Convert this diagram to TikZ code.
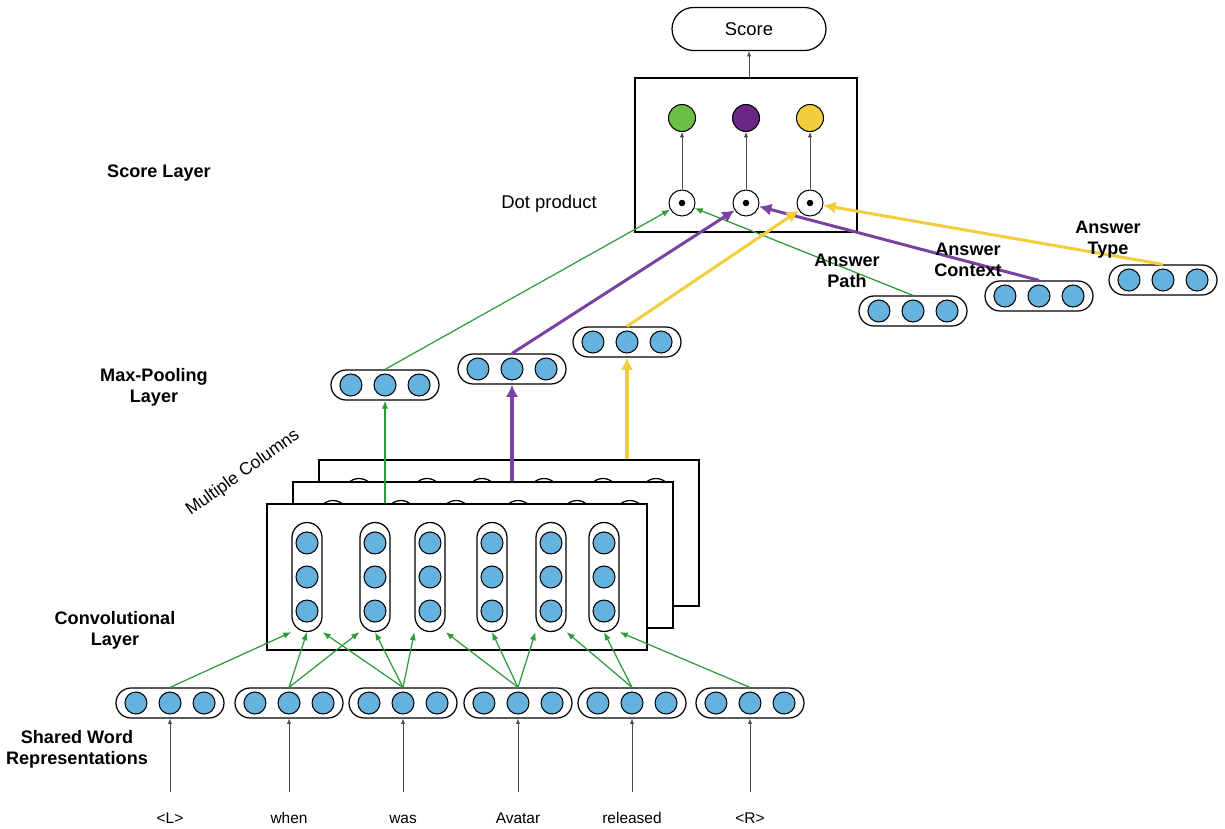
\documentclass[tikz,border=0pt]{standalone}
\usepackage{fontspec}
\setmainfont{Liberation Sans}
\usepackage{tikz}
\usetikzlibrary{arrows.meta}
\usetikzlibrary{positioning}
\usetikzlibrary{calc}
\definecolor{unitblue}{HTML}{66B2DE}
\definecolor{pathgreen}{HTML}{2E9B3A}
\definecolor{dotgreen}{HTML}{6CBF44}
\definecolor{ctxpurple}{HTML}{7A42A0}
\definecolor{dotpurple}{HTML}{6A2784}
\definecolor{typeyellow}{HTML}{F2CD3C}
\tikzstyle{unit}=[draw, circle, fill=unitblue, minimum size=0.44cm,
  inner sep=0pt, line width=0.6pt]
\tikzstyle{hvec}=[draw, rounded corners=0.3cm, minimum width=2.16cm,
  minimum height=0.6cm, inner sep=0pt, line width=0.7pt]
\tikzstyle{vvec}=[draw, fill=white, rounded corners=0.3cm, minimum width=0.6cm,
  minimum height=2.18cm, inner sep=0pt, line width=0.7pt]
\tikzstyle{layer}=[draw, fill=white, inner sep=0pt, line width=0.8pt]
\tikzstyle{dotop}=[draw, circle, fill=white, minimum size=0.52cm,
  inner sep=0pt, line width=0.6pt]
\tikzstyle{outdot}=[dotop, minimum size=0.54cm]
\tikzstyle{title}=[font=\fontsize{10.3}{12}\selectfont\bfseries, align=center]
\tikzstyle{word}=[font=\fontsize{8.8}{10}\selectfont, text height=1.6ex,
  text depth=0.3ex]
\tikzstyle{line} = [draw]
\tikzstyle{thinline} = [line, line width=0.4pt, black!70,
  -{Latex[length=3pt, width=2.4pt]}]
\tikzstyle{gline} = [line, pathgreen, line width=0.7pt,
  -{Latex[length=4.6pt, width=3.6pt]}]
\tikzstyle{pline} = [line, ctxpurple, line width=1.7pt,
  -{Latex[length=7pt, width=7pt]}]
\tikzstyle{yline} = [line, typeyellow, line width=1.7pt,
  -{Latex[length=7pt, width=7pt]}]
\newcommand{\hvector}[2]{\node (#1) [hvec] at (#2) {};
  \node (#1b) [unit] at (#1) {};
  \node (#1a) [unit, left=0.22cm of #1b] {};
  \node (#1c) [unit, right=0.22cm of #1b] {};}
\newcommand{\vvector}[2]{\node (#1) [vvec] at (#2) {};
  \node (#1b) [unit] at (#1) {};
  \node (#1a) [unit, above=0.22cm of #1b] {};
  \node (#1c) [unit, below=0.22cm of #1b] {};}

\begin{document}
\begin{tikzpicture}[x=0.02cm, y=-0.02cm]
    \useasboundingbox (0,0) rectangle (1225,829);

    % Layer titles
    \node (tscore) [title] at (159,173) {Score Layer};
    \node (tpool) [title] at (154,387) {Max-Pooling\\Layer};
    \node (tconv) [title] at (115,630) {Convolutional\\Layer};
    \node (tword) [title] at (77,749) {Shared Word\\Representations};
    \node (tcols) [font=\fontsize{10}{12}\selectfont, rotate=35.6] at (243,473)
      {Multiple Columns};

    % Words and shared word vectors
    \foreach \i/\x/\w in {1/170/<L>, 2/289/when, 3/403/was,
                          4/518/Avatar, 5/632/released, 6/750/<R>} {
      \node (t\i) [word] at (\x,817) {\w};
      \hvector{w\i}{\x,703}
      \path [thinline, shorten <=0.2cm] (t\i.north) -- (w\i.south);
    }

    % Convolutional layers, back to front
    \foreach \l/\dx/\dy in {3/52/-44, 2/26/-22, 1/0/0} {
      \node (conv\l) [layer, minimum width=7.6cm, minimum height=2.92cm]
        at ({457+\dx},{577+\dy}) {};
      \foreach \c/\ox in {1/-150, 2/-82, 3/-27, 4/35, 5/94, 6/147} {
        \vvector{c\l\c}{{457+\dx+\ox},{577+\dy}}
      }
    }

    % Word vectors into the front columns
    \path [gline] (w1.north) -- (c11.south west);
    \path [gline] (w2.north) -- (c11.south);
    \path [gline] (w2.north) -- (c12.south west);
    \path [gline] (w3.north) -- (c11.south east);
    \path [gline] (w3.north) -- (c12.south);
    \path [gline] (w3.north) -- (c13.south west);
    \path [gline] (w4.north) -- (c13.south east);
    \path [gline] (w4.north) -- (c14.south);
    \path [gline] (w4.north) -- (c15.south west);
    \path [gline] (w5.north) -- (c15.south east);
    \path [gline] (w5.north) -- (c16.south);
    \path [gline] (w6.north) -- (c16.south east);

    % Max-pooling vectors
    \hvector{m1}{385,385}
    \hvector{m2}{512,369}
    \hvector{m3}{627,342}
    \path [gline, line width=0.6pt] (m1 |- conv1.north) -- (m1.south);
    \path [pline, line width=2.2pt] (m2 |- conv2.north) -- (m2.south);
    \path [yline, line width=2.2pt] (m3 |- conv3.north) -- (m3.south);

    % Score layer
    \node (sl) [layer, minimum width=4.44cm, minimum height=3.08cm] at (746,155) {};
    \node (sc) [draw, rounded corners=0.43cm, minimum width=3.08cm,
      minimum height=0.86cm, line width=0.7pt,
      font=\fontsize{10.5}{12}\selectfont] at (749,29) {Score};
    \path [thinline] (sc |- sl.north) -- (sc.south);
    \foreach \i/\x/\c in {1/682/dotgreen, 2/746/dotpurple, 3/810/typeyellow} {
      \node (o\i) [outdot, fill=\c] at (\x,118) {};
      \node (d\i) [dotop] at (\x,203) {};
      \fill (d\i) circle [radius=0.065cm];
      \path [thinline] (d\i.north) -- (o\i.south);
    }
    \node (dp) [font=\fontsize{10.5}{12}\selectfont] at (549,204) {Dot product};

    % Answer vectors
    \hvector{a1}{913,311}
    \hvector{a2}{1039,296}
    \hvector{a3}{1163,280}

    % Into the dot products
    \path [gline] (m1.north) -- (d1);
    \path [gline] (a1.north) -- (d1);
    \path [pline] (m2.north) -- (d2);
    \path [pline] (a2.north) -- (d2);
    \path [yline] (m3.north) -- (d3);
    \path [yline] (a3.north) -- (d3);

    \node (lpath) [title] at (847,271) {Answer\\Path};
    \node (lctx) [title] at (968,260) {Answer\\Context};
    \node (ltype) [title] at (1108,240) {Answer\\Type};

\end{tikzpicture}
\end{document}
